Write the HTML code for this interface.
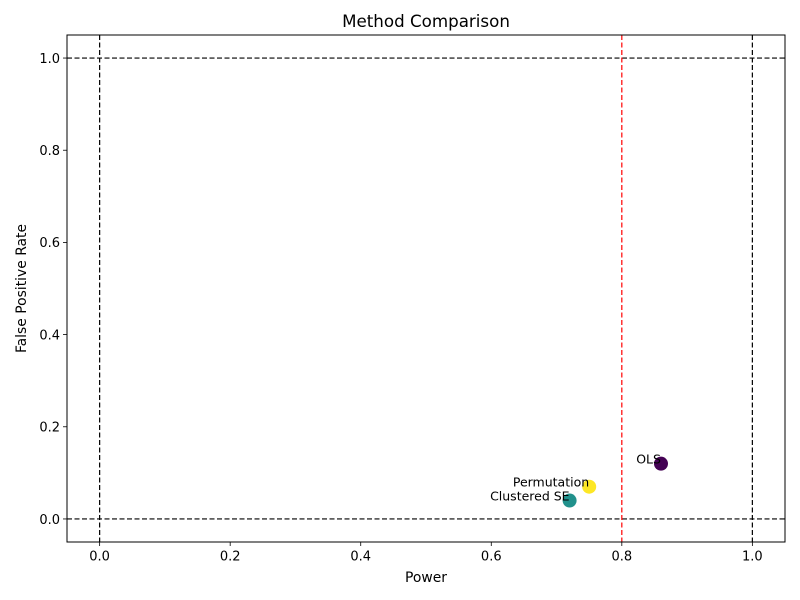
<!DOCTYPE html>
<html><head><meta charset="utf-8"><style>
html,body{margin:0;padding:0;background:#fff;}
svg{display:block;font-family:"DejaVu Sans","Liberation Sans",sans-serif;}
</style></head><body>
<svg id="chart" width="800" height="600"></svg>
<script>
const methods = ["OLS", "Permutation", "Clustered SE"];
const powerValues = [0.86, 0.75, 0.72];
const fprValues = [0.12, 0.07, 0.04];
const pointColors = ["#440154", "#fde725", "#21918c"];
const xTicks = [0.0, 0.2, 0.4, 0.6, 0.8, 1.0];
const yTicks = [0.0, 0.2, 0.4, 0.6, 0.8, 1.0];
const vRefLines = [0.0, 1.0];
const hRefLines = [0.0, 1.0];
const powerThreshold = 0.8;

const NS = "http://www.w3.org/2000/svg";
const svg = document.getElementById("chart");
const L = 67, R = 785, T = 35, B = 542;
const xMin = -0.05, xMax = 1.05, yMin = -0.05, yMax = 1.05;
const sx = v => L + (v - xMin) / (xMax - xMin) * (R - L);
const sy = v => B - (v - yMin) / (yMax - yMin) * (B - T);
function el(tag, attrs, parent) {
  const e = document.createElementNS(NS, tag);
  for (const k in attrs) e.setAttribute(k, attrs[k]);
  (parent || svg).appendChild(e);
  return e;
}
const title = el("text", {x: (L + R) / 2, y: 27, "text-anchor": "middle", "font-size": 16.7, fill: "#000"});
title.textContent = "Method Comparison";



xTicks.forEach(t => {
  const x = sx(t);
  el("line", {x1: x, x2: x, y1: B, y2: B + 4, stroke: "#000", "stroke-width": 0.8});
  const tx = el("text", {x: x, y: B + 18.5, "text-anchor": "middle", "font-size": 13, fill: "#000"});
  tx.textContent = t.toFixed(1);
  
  
});
yTicks.forEach(t => {
  const y = sy(t);
  el("line", {x1: L - 4, x2: L, y1: y, y2: y, stroke: "#000", "stroke-width": 0.8});
  const tx = el("text", {x: L - 7, y: y + 4.8, "text-anchor": "end", "font-size": 13, fill: "#000"});
  tx.textContent = t.toFixed(1);
  
  
});
const xl = el("text", {x: (L + R) / 2, y: 582, "text-anchor": "middle", "font-size": 13.9, fill: "#000"});
xl.textContent = "Power";


const yl = el("text", {x: 26, y: (T + B) / 2, "text-anchor": "middle", "font-size": 13.9, fill: "#000", transform: `rotate(-90 26 ${(T + B) / 2})`});
yl.textContent = "False Positive Rate";



vRefLines.forEach(v => {
  const ln = el("line", {x1: sx(v), x2: sx(v), y1: T, y2: B, stroke: "#000", "stroke-width": 1.2, "stroke-dasharray": "5,2.5"});
  
  
});
hRefLines.forEach(v => {
  const ln = el("line", {x1: L, x2: R, y1: sy(v), y2: sy(v), stroke: "#000", "stroke-width": 1.2, "stroke-dasharray": "5,2.5"});
  
  
});
const th = el("line", {x1: sx(powerThreshold), x2: sx(powerThreshold), y1: T, y2: B, stroke: "#ff0000", "stroke-width": 1.2, "stroke-dasharray": "5,2.5"});



methods.forEach((m, i) => {
  const x = sx(powerValues[i]), y = sy(fprValues[i]);
  const c = el("circle", {cx: x, cy: y, r: 7, fill: pointColors[i]});
  
  
  const t = el("text", {x: x, y: y, "text-anchor": "end", "font-size": 12.5, fill: "#000"});
  t.textContent = m;
  
  
});

const frame = el("rect", {x: L, y: T, width: R - L, height: B - T, fill: "none", stroke: "#000", "stroke-width": 1});


</script>
</body></html>
